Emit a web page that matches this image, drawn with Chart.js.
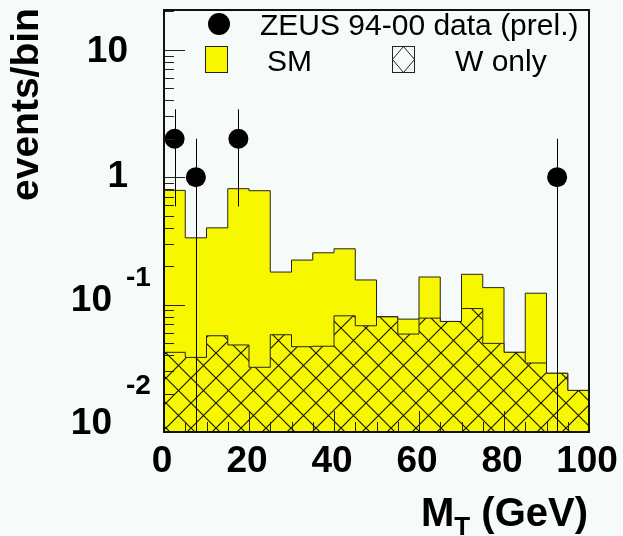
<!DOCTYPE html>
<html><head><meta charset="utf-8">
<script src="https://cdn.jsdelivr.net/npm/chart.js@4.4.0/dist/chart.umd.min.js"></script>
<style>html,body{margin:0;padding:0;background:#f6faf8;}canvas{display:block}</style>
</head><body>
<div style="width:623px;height:536px"><canvas id="c" width="623" height="536"></canvas></div>
<script>
// ---- data ----
const binEdges = [0,5,10,15,20,25,30,35,40,45,50,55,60,65,70,75,80,85,90,95,100];
const smValues = [0.787,0.334,0.400,0.812,0.783,0.180,0.2235,0.255,0.274,0.156,0.0806,0.0769,0.1646,0.0737,0.1728,0.1358,0.0422,0.1228,0.0289,0.0212];
const wValues  = [0.0422,0.0385,0.0569,0.0482,0.0322,0.058,0.0467,0.0471,0.0816,0.0682,0.0801,0.0587,0.0783,0.0737,0.0931,0.0496,0.0422,0.0348,0.0289,0.0212];
const dataX = [2.5,7.5,17.5,92.5];
const dataY = [2,1,2,1];
const dataErrUp = [1.41,1,1.41,1];
const dataErrDown = [1.41,1,1.41,1];
const yTickValues = [0.01,0.1,1,10];
const yTickBase = ['10','10','1','10'];
const yTickExp = ['-2','-1','',''];
const xTickValues = [0,20,40,60,80,100];
const xTickLabels = ['0','20','40','60','80','100'];
const legendLabels = ['ZEUS 94-00 data (prel.)','SM','W only'];
const xTitleMain = 'M', xTitleSub = 'T', xTitleRest = ' (GeV)';
const yTitle = 'events/bin';

// ---- style ----
const BG = '#f6faf8', YEL = '#f7f700', LINE = '#222222';
const FONT = '"Liberation Sans", Arial, Helvetica, sans-serif';

const stepPoints = vals => binEdges.map((x,i)=>({x:x, y:vals[Math.min(i, vals.length-1)]}));
const canvas = document.getElementById('c');
const ctx = canvas.getContext('2d');

function makeHatch(){
  const s = 25, c = document.createElement('canvas'); c.width = s; c.height = s;
  const g = c.getContext('2d');
  g.fillStyle = YEL; g.fillRect(0,0,s,s);
  g.strokeStyle = '#1a1a00'; g.lineWidth = 1.2;
  g.beginPath(); g.moveTo(-1,-1); g.lineTo(s+1,s+1); g.moveTo(s+1,-1); g.lineTo(-1,s+1); g.stroke();
  const p = ctx.createPattern(c,'repeat');
  try { p.setTransform(new DOMMatrix().translate(16,3)); } catch(e){}
  return p;
}
const hatch = makeHatch();

const decor = {
  id:'decor',
  beforeDraw(chart){
    const c = chart.ctx; c.save(); c.fillStyle = BG; c.fillRect(0,0,chart.width,chart.height); c.restore();
  },
  beforeDatasetDraw(chart, args){
    if (args.index !== 0) return;
    const c = chart.ctx, xs = chart.scales.x, ys = chart.scales.y, a = chart.chartArea;
    c.save(); c.strokeStyle = '#000'; c.lineWidth = 1;
    dataX.forEach((x,i)=>{
      const px = Math.round(xs.getPixelForValue(x)) + 0.5;
      const hi = dataY[i] + dataErrUp[i], lo = dataY[i] - dataErrDown[i];
      const pyHi = ys.getPixelForValue(hi);
      const pyLo = lo > 0 ? ys.getPixelForValue(lo) : a.bottom;
      c.beginPath(); c.moveTo(px, pyHi); c.lineTo(px, Math.min(pyLo, a.bottom)); c.stroke();
    });
    c.restore();
  },
  afterDatasetsDraw(chart){
    const c = chart.ctx, xs = chart.scales.x, ys = chart.scales.y, a = chart.chartArea;
    c.save();
    c.strokeStyle = LINE; c.lineWidth = 1;
    for (let d = -2; d <= 1; d++){
      for (let k = 1; k <= 9; k++){
        const v = k * Math.pow(10,d);
        if (v < ys.min - 1e-12 || v > ys.max) continue;
        const py = Math.round(ys.getPixelForValue(v)) + 0.5;
        const len = k === 1 ? 21 : 10;
        c.beginPath(); c.moveTo(a.left, py); c.lineTo(a.left + len, py); c.stroke();
      }
    }
    for (let v = 0; v <= 100; v += 5){
      const px = Math.round(xs.getPixelForValue(v)) + 0.5;
      const len = v % 20 === 0 ? 21 : 10;
      c.beginPath(); c.moveTo(px, a.bottom); c.lineTo(px, a.bottom - len); c.stroke();
    }
    c.strokeStyle = '#111'; c.lineWidth = 2;
    c.strokeRect(a.left, a.top, a.right - a.left, a.bottom - a.top);
    c.restore();
  },
  afterDraw(chart){
    const c = chart.ctx, xs = chart.scales.x, ys = chart.scales.y, a = chart.chartArea;
    c.save(); c.fillStyle = '#000';
    const baseOff = [1.5, 6.5, 9.5, 12.5];
    const expOff  = [-39.5, -25.5, 0, 0];
    yTickValues.forEach((v,i)=>{
      const py = ys.getPixelForValue(v);
      c.font = 'bold 37px ' + FONT;
      c.textAlign = 'right'; c.textBaseline = 'alphabetic';
      if (yTickExp[i]){
        c.fillText(yTickBase[i], 112, py + baseOff[i]);
        c.font = 'bold 28px ' + FONT; c.textAlign = 'left';
        c.fillText(yTickExp[i], 126, py + baseOff[i] + expOff[i]);
      } else {
        c.fillText(yTickBase[i], 128, py + baseOff[i]);
      }
    });
    c.font = 'bold 37px ' + FONT; c.textAlign = 'center'; c.textBaseline = 'alphabetic';
    xTickValues.forEach((v,i)=>{
      c.fillText(xTickLabels[i], xs.getPixelForValue(v) - 2, 472);
    });
    // x title
    c.textAlign = 'left';
    c.font = 'bold 40px ' + FONT;
    let x0 = 421;
    c.fillText(xTitleMain, x0, 526);
    x0 += c.measureText(xTitleMain).width;
    c.font = 'bold 26px ' + FONT;
    c.fillText(xTitleSub, x0, 535);
    x0 += c.measureText(xTitleSub).width;
    c.font = 'bold 40px ' + FONT;
    c.fillText(xTitleRest, x0, 526);
    // y title
    c.save(); c.translate(38, 201); c.rotate(-Math.PI/2);
    c.font = 'bold 39px ' + FONT; c.textAlign = 'left';
    c.fillText(yTitle, 0, 0);
    c.restore();
    // legend
    c.font = '30px ' + FONT; c.textAlign = 'left'; c.fillStyle = '#000';
    c.beginPath(); c.arc(219, 24, 11, 0, Math.PI*2); c.fill();
    c.fillText(legendLabels[0], 260, 35);
    c.fillStyle = YEL; c.fillRect(206, 47, 22, 26);
    c.strokeStyle = LINE; c.lineWidth = 1; c.strokeRect(205.5, 46.5, 22, 26);
    c.fillStyle = '#000'; c.fillText(legendLabels[1], 267, 71);
    c.strokeRect(392.5, 46.5, 22, 26);
    c.beginPath(); c.moveTo(403.5, 46.5); c.lineTo(414.5, 59.5); c.lineTo(403.5, 72.5); c.lineTo(392.5, 59.5); c.closePath(); c.stroke();
    c.fillText(legendLabels[2], 455, 71);
    c.restore();
  }
};

new Chart(ctx, {
  type: 'line',
  data: {
    datasets: [
      { label: legendLabels[0], data: dataX.map((x,i)=>({x:x, y:dataY[i]})), showLine: false,
        pointRadius: 10, pointHoverRadius: 10, pointBackgroundColor: '#000', pointBorderWidth: 0, order: 0 },
      { label: legendLabels[2], data: stepPoints(wValues), stepped: true, fill: 'start',
        backgroundColor: hatch, borderColor: LINE, borderWidth: 1, pointRadius: 0, order: 1 },
      { label: legendLabels[1], data: stepPoints(smValues), stepped: true, fill: 'start',
        backgroundColor: YEL, borderColor: LINE, borderWidth: 1, pointRadius: 0, order: 2 }
    ]
  },
  options: {
    responsive: false, animation: false, devicePixelRatio: 1,
    layout: { padding: { left: 164, right: 34, top: 8, bottom: 104 } },
    plugins: { legend: { display: false }, tooltip: { enabled: false }, filler: { propagate: false } },
    scales: {
      x: { type: 'linear', min: 0, max: 100, display: false },
      y: { type: 'logarithmic', min: 0.01, max: 20.5, display: false }
    }
  },
  plugins: [decor]
});
</script>
</body></html>
